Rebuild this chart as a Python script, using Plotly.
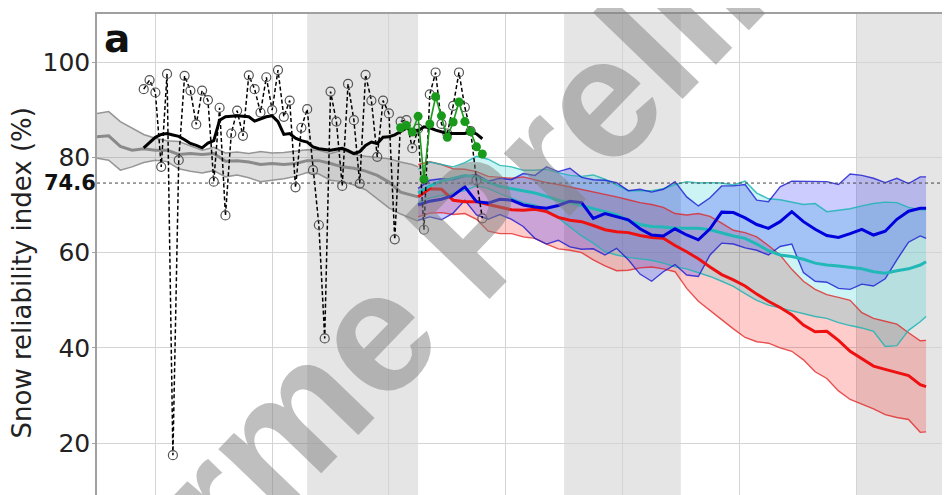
import plotly.graph_objects as go

# ---------------- data ----------------
hist_years = [1950, 1952, 1954, 1956, 1958, 1960, 1962, 1964, 1966, 1968, 1970, 1972, 1974, 1976,
              1978, 1980, 1982, 1984, 1986, 1988, 1990, 1992, 1994, 1996, 1998, 2000, 2002, 2004, 2005]
hist_upper = [89.2, 89.6, 87.5, 86.2, 84.8, 84.0, 83.5, 83.3, 82.4, 81.5, 82.1, 80.9, 81.1, 80.8,
              81.2, 80.9, 81.0, 81.3, 81.6, 81.5, 80.8, 81.5, 80.6, 80.2, 79.9, 79.7, 79.0, 78.5, 78.0]
hist_mean = [84.3, 84.5, 82.3, 81.5, 81.8, 81.5, 81.5, 80.6, 80.8, 80.6, 80.8, 79.2, 79.3, 79.0,
             78.5, 78.7, 78.5, 78.7, 79.3, 79.3, 78.7, 78.0, 77.7, 77.1, 76.2, 74.8, 72.7, 72.0, 71.7]
hist_lower = [79.8, 79.4, 77.3, 78.0, 78.9, 79.4, 79.1, 77.6, 77.1, 76.7, 77.2, 75.9, 76.3, 75.7,
              74.9, 75.2, 75.5, 76.0, 76.8, 76.5, 75.2, 74.9, 74.2, 73.2, 71.2, 69.4, 68.1, 67.0, 66.6]

obs_years = list(range(1958, 2017))
obs_values = [94.3, 96.2, 93.6, 78.0, 97.5, 17.5, 79.4, 97.1, 94.0, 86.9,
              94.0, 92.0, 74.9, 90.4, 67.8, 85.0, 89.8, 84.5, 97.2, 94.3,
              89.4, 96.8, 89.9, 98.3, 88.5, 91.9, 73.7, 86.2, 90.1, 77.3,
              65.8, 42.0, 93.8, 87.5, 74.0, 95.4, 87.8, 74.5, 97.3, 91.9,
              80.1, 91.9, 89.2, 62.8, 87.5, 87.8, 81.9, 86.0, 64.8, 93.2,
              97.8, 87.0, 85.0, 90.8, 97.8, 90.5, 85.5, 75.2, 67.2]
obs_smooth = [82.0, 83.0, 84.2, 84.8, 85.0, 84.7, 84.4, 83.7, 82.9, 82.5,
              82.0, 83.0, 83.5, 87.8, 88.5, 88.6, 88.7, 88.6, 88.5, 87.6,
              88.1, 88.5, 88.7, 87.5, 84.8, 85.0, 84.0, 83.5, 83.2, 82.2,
              81.8, 81.6, 81.5, 81.7, 81.9, 81.4, 80.8, 81.2, 82.5, 83.2,
              82.9, 84.2, 84.3, 84.7, 85.4, 86.1, 85.8, 85.6, 86.4, 86.2,
              85.7, 85.3, 85.0, 85.0, 85.0, 85.0, 85.4, 84.9, 83.9]

green_years = list(range(2002, 2017))
green_values = [86.2, 86.7, 85.3, 88.6, 75.4, 87.0, 92.7, 88.7, 84.2, 87.4, 91.6, 87.5, 85.4, 82.2, 80.7]

proj_years = [2005, 2007, 2009, 2011, 2013, 2015, 2017, 2019, 2021, 2023, 2025, 2027, 2029, 2031, 2033,
              2035, 2037, 2039, 2041, 2043, 2045, 2047, 2049, 2051, 2053, 2055, 2057, 2059, 2061, 2063,
              2065, 2067, 2069, 2071, 2073, 2075, 2077, 2079, 2081, 2083, 2085, 2087, 2089, 2091, 2092]

red_upper = [78.5, 79.1, 78.5, 77.6, 77.5, 77.0, 76.0, 75.8, 75.6, 75.9, 75.3, 74.7, 74.3, 73.8, 73.2,
             72.7, 72.2, 71.7, 71.1, 70.5, 70.1, 69.5, 68.2, 67.9, 68.2, 67.6, 66.2, 64.7, 64.2, 63.3,
             61.5, 59.5, 56.5, 54.0, 52.3, 51.2, 50.6, 50.0, 47.4, 46.2, 45.6, 45.0, 43.2, 41.5, 41.6]
red_mean = [71.7, 73.4, 73.3, 71.0, 70.7, 70.7, 70.1, 69.6, 69.0, 68.9, 69.1, 68.6, 67.4, 66.8, 66.5,
            65.7, 64.8, 64.4, 64.2, 63.6, 63.2, 63.0, 61.5, 60.2, 58.7, 57.0, 55.4, 54.3, 53.0, 51.3,
            49.8, 48.5, 47.0, 44.8, 43.4, 43.5, 41.6, 39.3, 37.8, 36.2, 35.5, 34.8, 34.2, 32.3, 31.9]
red_lower = [67.5, 68.3, 68.4, 68.0, 68.2, 67.0, 64.5, 64.0, 64.0, 63.3, 63.0, 61.8, 60.8, 60.5, 60.0,
             58.5, 57.2, 56.2, 56.3, 56.8, 57.0, 56.6, 56.0, 52.5, 49.8, 47.8, 45.8, 44.0, 42.2, 41.3,
             41.0, 40.0, 39.3, 37.5, 35.0, 33.6, 31.0, 29.2, 28.2, 27.2, 26.0, 25.4, 25.0, 22.3, 22.4]

cyan_upper = [77.5, 79.0, 78.5, 78.0, 78.9, 80.2, 79.6, 78.3, 78.0, 77.3, 77.3, 77.5, 76.8, 76.2, 76.0,
              76.3, 75.4, 74.2, 73.0, 73.0, 73.0, 73.4, 74.3, 74.9, 74.6, 74.7, 74.6, 74.2, 75.0, 72.5,
              71.3, 71.1, 70.6, 70.1, 70.3, 68.6, 68.9, 69.2, 69.8, 70.3, 70.6, 70.5, 69.5, 69.0, 69.0]
cyan_mean = [72.5, 74.0, 75.0, 75.6, 76.2, 75.9, 74.8, 73.9, 73.4, 72.9, 72.5, 71.8, 71.0, 70.5, 69.9,
             69.2, 68.6, 67.9, 66.7, 65.9, 65.5, 65.4, 65.1, 65.1, 65.1, 64.8, 64.1, 63.5, 63.0, 61.8,
             60.4, 59.5, 59.2, 58.6, 57.8, 57.4, 57.2, 56.9, 56.6, 56.0, 55.7, 56.2, 56.6, 57.4, 58.1]
cyan_lower = [70.5, 71.5, 72.0, 72.5, 73.0, 74.0, 73.5, 72.4, 71.5, 70.5, 70.0, 69.0, 67.3, 65.4, 63.5,
              62.0, 60.2, 59.5, 59.0, 58.7, 58.4, 57.8, 57.0, 56.6, 55.8, 55.0, 54.0, 52.9, 51.4, 50.0,
              49.0, 48.4, 47.9, 47.2, 46.6, 46.2, 45.3, 44.7, 44.2, 43.5, 40.3, 40.5, 43.7, 45.5, 46.6]

blue_upper = [73.5, 75.2, 75.5, 75.3, 76.0, 76.4, 75.0, 75.6, 75.3, 76.6, 76.2, 78.0, 77.0, 77.7, 75.8,
              75.3, 75.2, 74.7, 73.0, 73.3, 72.7, 73.3, 74.9, 71.7, 69.8, 71.5, 74.0, 74.0, 74.3, 71.0,
              70.7, 73.8, 75.0, 75.0, 74.9, 74.9, 74.3, 76.5, 76.2, 75.6, 74.7, 75.6, 74.5, 75.9, 75.9]
blue_mean = [70.0, 70.8, 71.2, 72.0, 73.8, 70.7, 70.4, 71.2, 71.0, 70.0, 69.6, 69.3, 69.9, 70.8, 70.5,
             67.2, 68.2, 67.5, 66.9, 65.0, 63.7, 63.5, 65.0, 63.7, 62.7, 65.0, 68.5, 68.4, 67.3, 65.9,
             65.1, 66.5, 68.6, 66.5, 64.9, 63.6, 63.2, 64.0, 64.9, 63.7, 64.5, 67.0, 68.7, 69.3, 69.3]
blue_lower = [66.8, 67.5, 66.9, 68.3, 71.0, 67.9, 67.0, 68.0, 67.0, 65.5, 63.0, 61.8, 62.6, 61.2, 60.7,
              60.8, 59.5, 60.9, 58.5, 55.5, 54.0, 56.0, 57.5, 55.3, 55.0, 59.5, 62.0, 61.8, 61.0, 60.5,
              59.5, 61.3, 61.8, 55.8, 54.0, 53.8, 52.5, 52.3, 53.4, 53.0, 54.5, 58.5, 62.2, 63.5, 63.0]

ref_periods = [(1986, 2005), (2030, 2050), (2080, 2100)]
threshold = 74.6
y_ticks = [20, 40, 60, 80, 100]

# ---------------- figure ----------------
fig = go.Figure()


def band(x, up, lo, fill):
    fig.add_trace(go.Scatter(x=list(x) + list(x)[::-1], y=list(up) + list(lo)[::-1],
                             fill="toself", fillcolor=fill, line=dict(width=0),
                             mode="lines", hoverinfo="skip", showlegend=False))


def line(x, y, color, width, dash="solid"):
    fig.add_trace(go.Scatter(x=x, y=y, mode="lines", line=dict(color=color, width=width, dash=dash),
                             showlegend=False))


# historical model envelope
band(hist_years, hist_upper, hist_lower, "rgba(150,150,150,0.30)")
line(hist_years, hist_upper, "rgba(140,140,140,0.9)", 1.5)
line(hist_years, hist_lower, "rgba(140,140,140,0.9)", 1.5)
line(hist_years, hist_mean, "#8a8a8a", 3)

# projection envelopes
band(proj_years, red_upper, red_lower, "rgba(255,0,0,0.20)")
band(proj_years, cyan_upper, cyan_lower, "rgba(0,200,200,0.20)")
band(proj_years, blue_upper, blue_lower, "rgba(0,0,255,0.20)")

line(proj_years, red_upper, "rgba(225,30,30,0.75)", 1.4)
line(proj_years, red_lower, "rgba(225,30,30,0.75)", 1.4)
line(proj_years, cyan_upper, "rgba(30,180,180,0.85)", 1.4)
line(proj_years, cyan_lower, "rgba(30,180,180,0.85)", 1.4)
line(proj_years, blue_upper, "rgba(25,25,210,0.8)", 1.4)
line(proj_years, blue_lower, "rgba(25,25,210,0.8)", 1.4)
line(proj_years, red_mean, "#ee1111", 3)
line(proj_years, cyan_mean, "#22b8b8", 3)
line(proj_years, blue_mean, "#0000dd", 3)

# observations
fig.add_trace(go.Scatter(x=obs_years, y=obs_values, mode="lines+markers",
                         line=dict(color="black", width=1.5, dash="4px,2.5px"),
                         marker=dict(symbol="circle-open", size=9, color="#555555", line=dict(width=1.2)),
                         showlegend=False))
line(obs_years, obs_smooth, "black", 3)
fig.add_trace(go.Scatter(x=green_years, y=green_values, mode="lines+markers",
                         line=dict(color="#1a9a1a", width=1.6),
                         marker=dict(symbol="circle", size=9, color="#1a9a1a"),
                         showlegend=False))

shapes = []
for a, b in ref_periods:
    shapes.append(dict(type="rect", xref="x", yref="paper", x0=a, x1=b, y0=0, y1=1,
                       fillcolor="#e5e5e5", line=dict(width=0), layer="below"))
shapes.append(dict(type="line", xref="paper", yref="y", x0=0, x1=1, y0=threshold, y1=threshold,
                   line=dict(color="#444444", width=1, dash="dot"), layer="above"))

annotations = [
    dict(text="Snow reliability index (%)", xref="paper", yref="paper", x=-0.0868, y=0.4626,
         xanchor="center", yanchor="middle", textangle=-90, showarrow=False,
         font=dict(family="DejaVu Sans", size=26, color="#222222")),
    dict(text="<b>74.6</b>", xref="paper", yref="y", x=0, y=threshold, xanchor="right",
         yanchor="middle", showarrow=False, xshift=1,
         font=dict(family="DejaVu Sans", size=21, color="#111111")),
    dict(text="<b>a</b>", xref="paper", yref="paper", x=0.006, y=1.0, xanchor="left",
         yanchor="top", showarrow=False,
         font=dict(family="DejaVu Sans", size=39, color="#111111")),
    dict(text="<b>Informe Preliminar</b>", xref="paper", yref="paper", x=0.4666, y=0.5988,
         xanchor="center", yanchor="middle", textangle=-46, showarrow=False,
         font=dict(family="Liberation Sans", size=172, color="rgba(128,128,128,0.5)")),
]

# the page adds an 8px body margin, so the figure is 8px smaller than the window
fig.update_layout(
    width=942, height=487,
    margin=dict(l=89, r=0, t=6, b=0),
    paper_bgcolor="white", plot_bgcolor="white",
    shapes=shapes, annotations=annotations,
    font=dict(family="DejaVu Sans", color="#222222"),
)
fig.update_xaxes(range=[1950, 2096.1], side="top", showline=True, linecolor="#a0a0a0", linewidth=1.5,
                 showgrid=True, gridcolor="#d4d4d4", gridwidth=1, tick0=1960, dtick=20,
                 showticklabels=False, ticks="", zeroline=False)
fig.update_yaxes(range=[9.15, 110.07], showline=True, linecolor="#a0a0a0", linewidth=1.5,
                 showgrid=True, gridcolor="#d4d4d4", gridwidth=1, tickvals=y_ticks,
                 ticks="outside", ticklen=3, tickcolor="#a0a0a0", ticklabelstandoff=-3,
                 tickfont=dict(family="DejaVu Sans", size=25, color="#222222"), zeroline=False)

fig.write_html("out.html")
